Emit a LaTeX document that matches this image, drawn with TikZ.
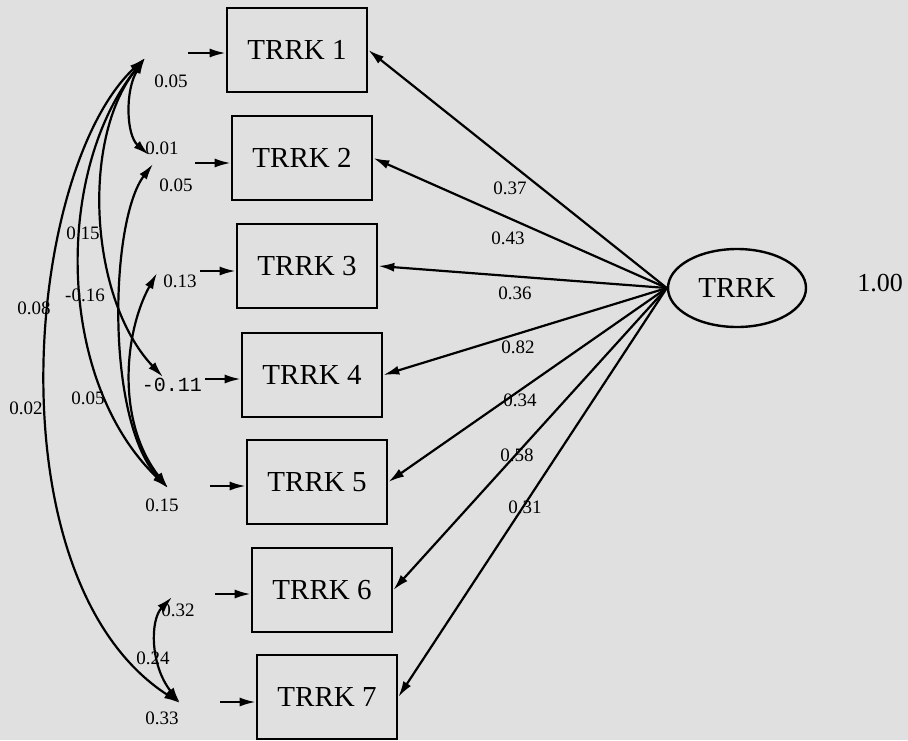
\documentclass[tikz,border=0pt]{standalone}
\usepackage{fontspec}
\setmainfont{Liberation Serif}
\newfontfamily\monofont{Liberation Mono}
\usetikzlibrary{arrows.meta,shapes.geometric}
\begin{document}
\begin{tikzpicture}[x=0.5pt,y=-0.5pt,
  obs/.style={draw,line width=1.3pt,minimum width=70pt,minimum height=42pt,inner sep=0pt,font=\fontsize{14.5}{14.5}\selectfont},
  lat/.style={draw,ellipse,line width=1.2pt,minimum width=69pt,minimum height=39pt,inner sep=0pt,font=\fontsize{14.5}{14.5}\selectfont},
  lbl/.style={font=\fontsize{9.5}{9.5}\selectfont,inner sep=0pt},
  load/.style={line width=1.1pt,-{Latex[length=8pt,width=4.5pt]}},
  cov/.style={line width=1.1pt,{Latex[length=8pt,width=4.5pt]}-{Latex[length=8pt,width=4.5pt]}},
  ]
\fill[black!12] (0,0) rectangle (908,740);
\useasboundingbox (0,0) rectangle (908,740);

% observed variables
\node[obs] (b1) at (297,50) {TRRK 1};
\node[obs] (b2) at (302,158) {TRRK 2};
\node[obs] (b3) at (307,266) {TRRK 3};
\node[obs] (b4) at (312,375) {TRRK 4};
\node[obs] (b5) at (317,482) {TRRK 5};
\node[obs] (b6) at (322,590) {TRRK 6};
\node[obs] (b7) at (327,697) {TRRK 7};

% latent
\node[lat] (L) at (737,288) {TRRK};
\node[font=\fontsize{13}{13}\selectfont,inner sep=0pt] (v) at (880,283) {1.00};

% loadings
\foreach \i in {1,...,7} \draw[load] (L.west) -- (b\i.east);
\node[lbl] (l1) at (510,188) {0.37};
\node[lbl] (l2) at (508,238) {0.43};
\node[lbl] (l3) at (515,293) {0.36};
\node[lbl] (l4) at (518,347) {0.82};
\node[lbl] (l5) at (520,400) {0.34};
\node[lbl] (l6) at (517,455) {0.58};
\node[lbl] (l7) at (525,507) {0.31};

% error terms
\coordinate (e1) at (145,58);
\coordinate (e2) at (153,164);
\coordinate (e2a) at (149,155);
\coordinate (e3) at (157,273);
\coordinate (e4) at (163,377);
\coordinate (e5) at (168,488);
\coordinate (e6) at (172,597);
\coordinate (e7) at (180,703);

\coordinate (s1) at (188,53);
\coordinate (s2) at (195,163);
\coordinate (s3) at (200,271);
\coordinate (s4) at (205,379);
\coordinate (s5) at (210,486);
\coordinate (s6) at (215,594);
\coordinate (s7) at (220,702);
\foreach \i in {1,...,7} \draw[load] (s\i) -- (s\i -| b\i.west);

% covariances
\draw[cov] (e2a) .. controls (126,135) and (125,90) .. (e1);
\draw[cov] (e1) .. controls (80,140) and (90,300) .. (e4);
\draw[cov] (e1) .. controls (55,170) and (55,380) .. (e5);
\draw[cov] (e1) .. controls (25,170) and (-10,580) .. (e7);
\draw[cov] (e2) .. controls (110,220) and (105,420) .. (e5);
\draw[cov] (e3) .. controls (125,330) and (115,420) .. (e5);
\draw[cov] (e6) .. controls (150,620) and (150,665) .. (e7);

% labels
\node[lbl] (v1) at (171,81) {0.05};
\node[lbl] (c12) at (162,148) {0.01};
\node[lbl] (v2) at (176,185) {0.05};
\node[lbl] (v3) at (180,281) {0.13};
\node[lbl] (c14) at (83,233) {0.15};
\node[lbl] (c15) at (85,295) {-0.16};
\node[lbl] (c17) at (34,308) {0.08};
\node[font=\monofont\fontsize{10}{10}\selectfont,inner sep=0pt] (v4) at (172,385) {-0.11};
\node[lbl] (c02) at (26,408) {0.02};
\node[lbl] (c05) at (88,398) {0.05};
\node[lbl] (v5) at (162,505) {0.15};
\node[lbl] (v6) at (178,610) {0.32};
\node[lbl] (c67) at (153,658) {0.24};
\node[lbl] (v7) at (162,718) {0.33};
\end{tikzpicture}
\end{document}
